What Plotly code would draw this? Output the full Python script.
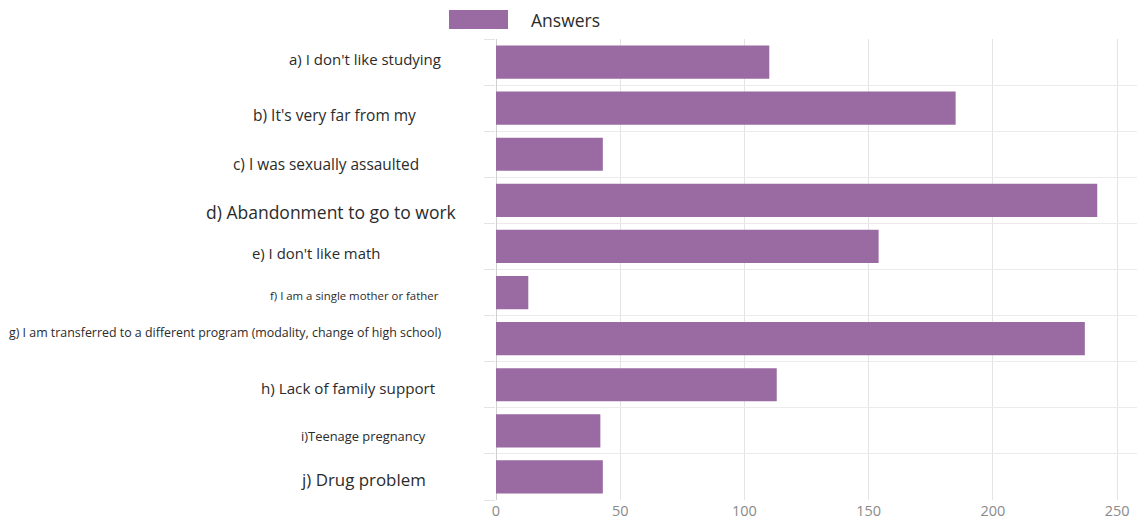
import plotly.graph_objects as go

# Survey: reasons for dropping out of school
categories = [
    "a) I don't like studying",
    "b) It's very far from my",
    "c) I was sexually assaulted",
    "d) Abandonment to go to work",
    "e) I don't like math",
    "f) I am a single mother or father",
    "g) I am transferred to a different program (modality, change of high school)",
    "h) Lack of family support",
    "i)Teenage pregnancy",
    "j) Drug problem",
]
answers = [110, 185, 43, 242, 154, 13, 237, 113, 42, 43]
x_ticks = [0, 50, 100, 150, 200, 250]

# Label styling: font size, right edge (px from left of page) and vertical nudge
label_sizes = [15.0, 15.5, 15.4, 17.5, 14.9, 11.4, 12.4, 15.2, 12.9, 16.9]
label_right_px = [443, 418, 421, 459, 382, 441, 444, 438, 428, 428]
label_yshift = [3, -7, -10, -12, -7, -3, 6, -3, -5, -3]

W, H = 1143, 528
ML, MR, MT, MB = 496, 6, 39, 28
plot_w = W - ML - MR
plot_h = H - MT - MB

BAR = "#9a6aa2"
FONT = "'Open Sans', Lato, sans-serif"

idx = list(range(len(categories)))

fig = go.Figure()
fig.add_trace(go.Bar(
    x=answers,
    y=idx,
    orientation="h",
    width=0.72,
    marker=dict(color=BAR, line=dict(width=0)),
    name="Answers",
    showlegend=False,
))

annotations = []
for i, (txt, sz, rpx, ys) in enumerate(zip(categories, label_sizes, label_right_px, label_yshift)):
    annotations.append(dict(
        x=(rpx - ML) / plot_w, xref="paper", xanchor="right",
        y=i, yref="y", yanchor="middle", yshift=ys,
        text=txt, showarrow=False,
        font=dict(family=FONT, size=sz, color="#2b2b2b"),
    ))

# Legend swatch and caption
annotations.append(dict(
    x=(529 - ML) / plot_w, xref="paper", xanchor="left",
    y=1 + 19 / plot_h, yref="paper", yanchor="middle",
    text="Answers", showarrow=False,
    font=dict(family=FONT, size=17.5, color="#2b2b2b"),
))
shapes = [dict(
    type="rect", xref="paper", yref="paper",
    x0=(449 - ML) / plot_w, x1=(508 - ML) / plot_w,
    y0=1 + 10 / plot_h, y1=1 + 29 / plot_h,
    fillcolor=BAR, line=dict(width=0), layer="above",
)]

fig.update_layout(
    width=W, height=H,
    margin=dict(l=ML, r=MR, t=MT, b=MB),
    paper_bgcolor="white", plot_bgcolor="white",
    bargap=0.28,
    annotations=annotations,
    shapes=shapes,
    xaxis=dict(
        range=[0, 258], tickvals=x_ticks,
        showgrid=True, gridcolor="#e4e4e4", gridwidth=1,
        zeroline=True, zerolinecolor="#d0d0d0", zerolinewidth=1,
        showline=False, ticks="",
        tickfont=dict(family=FONT, size=14.5, color="#8a8a8a"),
    ),
    yaxis=dict(
        range=[len(categories) - 0.5, -0.5],
        tickvals=[i - 0.5 for i in range(len(categories) + 1)],
        ticktext=[""] * (len(categories) + 1),
        showgrid=True, gridcolor="#ebebeb", gridwidth=1,
        zeroline=False, showline=False,
        ticks="outside", ticklen=11, tickcolor="#e4e4e4",
    ),
)

fig.write_html("out.html")
